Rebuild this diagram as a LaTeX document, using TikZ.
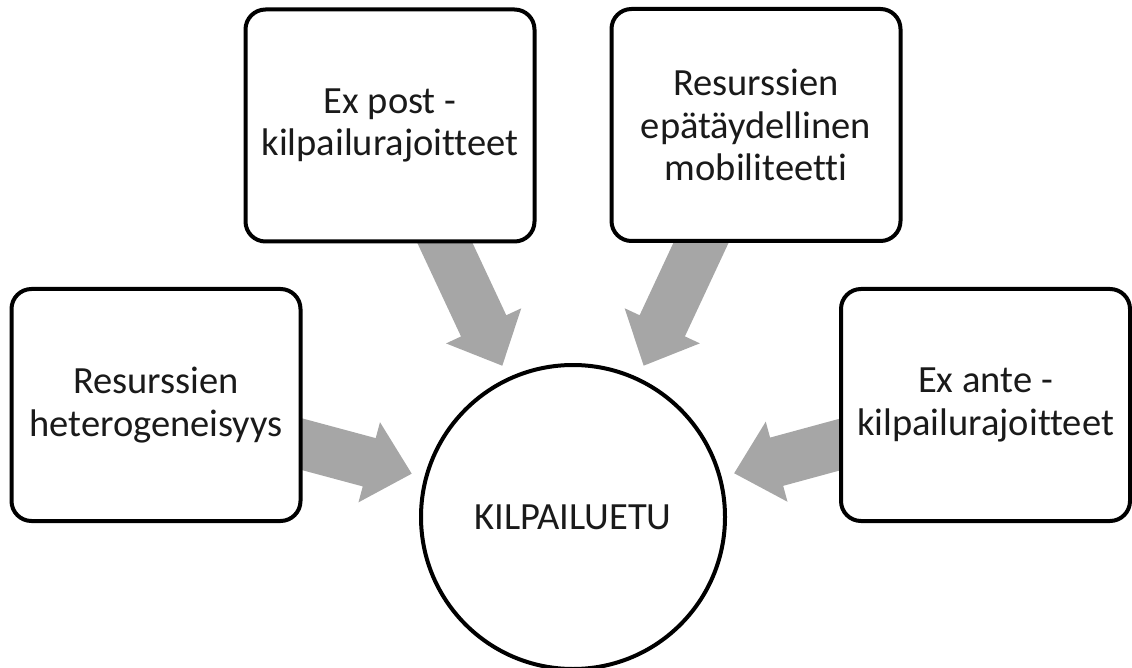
\documentclass[tikz,border=0pt]{standalone}
\usepackage{fontspec}
\setmainfont{Carlito}[Ligatures=NoCommon]
\usetikzlibrary{calc,backgrounds}
\definecolor{arrgray}{HTML}{A6A6A6}
\definecolor{txt}{HTML}{1A1A1A}
\newcommand\bigarrow[2]{%
  \coordinate (T) at ($(#2.center)!167pt!(#1.center)$);
  \coordinate (H) at ($(T)!44pt!(#1.center)$);
  \fill[arr] ($(#1.center)!25pt!90:(T)$) -- ($(H)!25pt!90:(T)$) -- ($(H)!41.5pt!90:(T)$) -- (T)
     -- ($(H)!41.5pt!-90:(T)$) -- ($(H)!25pt!-90:(T)$) -- ($(#1.center)!25pt!-90:(T)$) -- cycle;}
\begin{document}
\begin{tikzpicture}[x=1pt,y=-1pt,
  box/.style={draw=black, line width=4pt, fill=white, rounded corners=20pt,
    minimum width=289pt, minimum height=232pt, inner sep=0pt, align=center,
    text=txt, font=\fontsize{38.5}{42.5}\selectfont},
  hub/.style={circle, draw=black, line width=4pt, fill=white, minimum size=304pt,
    inner sep=0pt, text=txt, font=\fontsize{38.5}{42.5}\selectfont},
  arr/.style={fill=arrgray}]
\useasboundingbox (0,0) rectangle (1132,668);
\node[box] (hetero) at (156,405) {Resurssien\\heterogeneisyys};
\node[box] (expost) at (390,125.5) {Ex post -\\kilpailurajoitteet};
\node[box] (mobil) at (756,125) {Resurssien\\epätäydellinen\\mobiliteetti};
\node[box] (exante) at (985.5,405) {Ex ante -\\kilpailurajoitteet};
\node[hub] (hub) at (573,517) {KILPAILUETU};
\begin{scope}[on background layer]
  \bigarrow{hetero}{hub}
  \bigarrow{expost}{hub}
  \bigarrow{mobil}{hub}
  \bigarrow{exante}{hub}
\end{scope}
\end{tikzpicture}
\end{document}
